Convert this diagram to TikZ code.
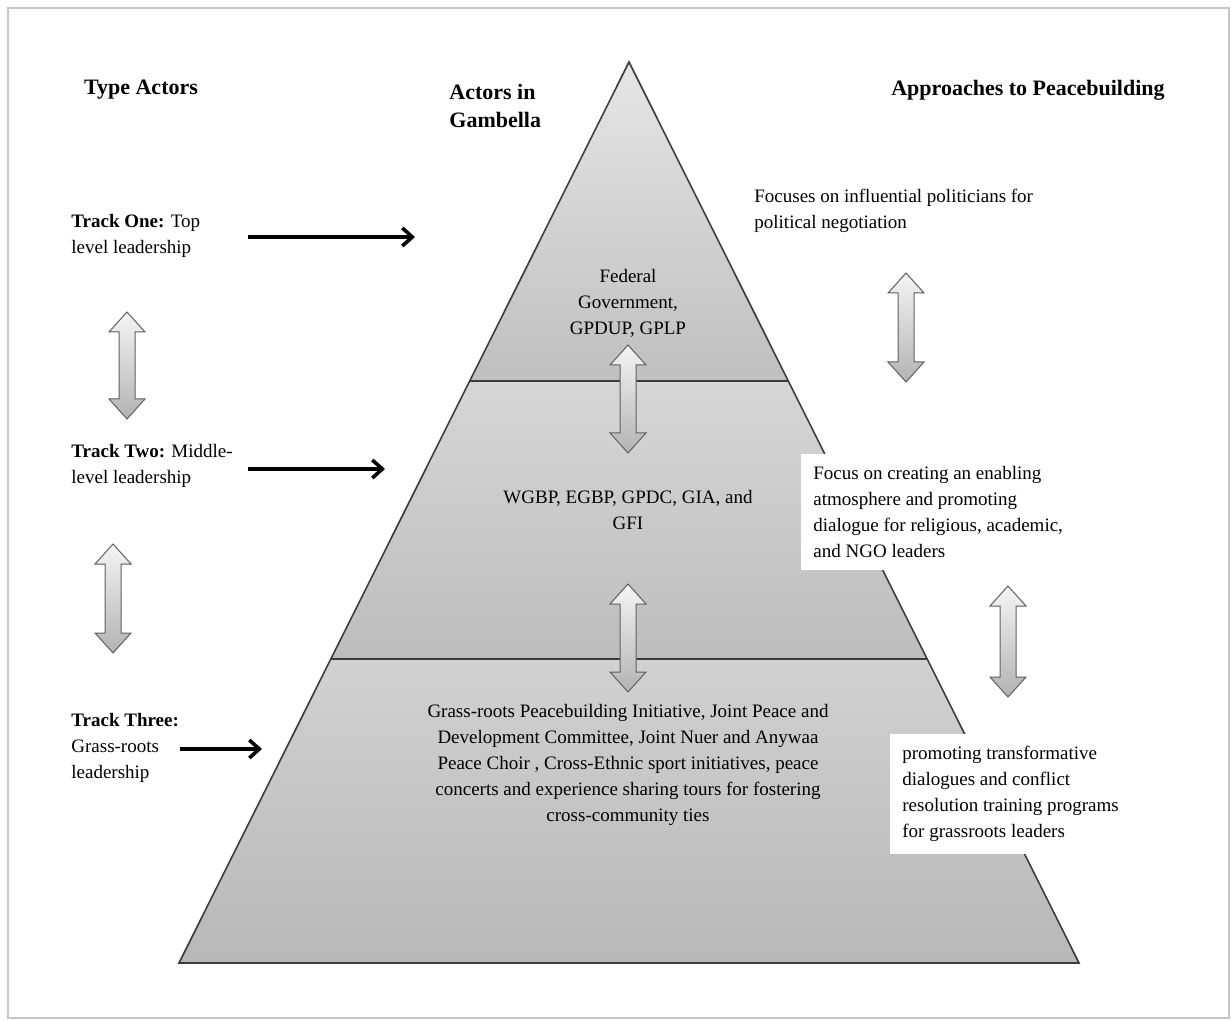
\documentclass[tikz,border=0pt]{standalone}
\usepackage{fontspec}
\setmainfont{Liberation Serif}
\usepackage{tikz}
\usetikzlibrary{positioning,arrows.meta}
\definecolor{edgegray}{RGB}{60,60,60}
\definecolor{framegray}{RGB}{200,200,200}

% up and down arrow: x, top, bottom
\newcommand{\updown}[3]{%
  \shadedraw[dbl] (#1,#2) -- ({#1+18},{#2+20}) -- ({#1+8},{#2+20}) -- ({#1+8},{#3-20})
  -- ({#1+18},{#3-20}) -- (#1,#3) -- ({#1-18},{#3-20}) -- ({#1-8},{#3-20})
  -- ({#1-8},{#2+20}) -- ({#1-18},{#2+20}) -- cycle;}

\begin{document}
\begin{tikzpicture}[x=0.5pt,y=-0.5pt,
txt/.style={font=\fontsize{9.5}{13}\selectfont,inner sep=0pt},
ttl/.style={font=\fontsize{11}{14}\selectfont\bfseries,inner sep=0pt},
harrow/.style={-{Straight Barb[length=5pt,width=9pt]},line width=1.8pt},
dbl/.style={draw=gray!75!black,line width=0.5pt,top color=gray!8,bottom color=gray!60},
tier/.style={draw=edgegray,line width=0.8pt}]
\useasboundingbox (0,0) rectangle (1231,1021);
\draw[framegray,line width=1.2pt] (8,8) rectangle (1229,1018);

% pyramid
\coordinate (apex) at (629,62);
\coordinate (l1) at (470,381);
\coordinate (r1) at (788,381);
\coordinate (l2) at (331,659);
\coordinate (r2) at (927,659);
\coordinate (bl) at (179,963);
\coordinate (br) at (1079,963);
\shade[top color=gray!20,bottom color=gray!50] (apex) -- (r1) -- (l1) -- cycle;
\shade[top color=gray!32,bottom color=gray!52] (l1) -- (r1) -- (r2) -- (l2) -- cycle;
\shade[top color=gray!36,bottom color=gray!56] (l2) -- (r2) -- (br) -- (bl) -- cycle;
\draw[tier] (apex) -- (br) -- (bl) -- cycle;
\draw[tier] (l1) -- (r1);
\draw[tier] (l2) -- (r2);

% headings
\node[ttl] (type) at (141,90) {Type Actors};
\node[ttl,align=left,anchor=north west] (gam) at (449,84) {Actors in\\Gambella};
\node[ttl] (appr) at (1028,90) {Approaches to Peacebuilding};

% tracks
\node[txt,align=left,anchor=north west] (t1) at (71,214) {\textbf{Track One:} Top\\level leadership};
\node[txt,align=left,anchor=north west] (t2) at (71,444) {\textbf{Track Two:} Middle-\\level leadership};
\node[txt,align=left,anchor=north west] (t3) at (71,713) {\textbf{Track Three:}\\Grass-roots\\leadership};

% actors
\node[txt,align=center] (fed) at (628,303) {Federal\\Government,\\GPDUP, GPLP};
\node[txt,align=center] (mid) at (628,510) {WGBP, EGBP, GPDC, GIA, and\\GFI};
\node[txt,align=center] (grass) at (628,765) {Grass-roots Peacebuilding Initiative, Joint Peace and\\
Development Committee, Joint Nuer and Anywaa\\
Peace Choir , Cross-Ethnic sport initiatives, peace\\
concerts and experience sharing tours for fostering\\
cross-community ties};

% approaches
\node[txt,align=left,anchor=north west] (pol) at (754,189) {Focuses on influential politicians for\\political negotiation};
\node[txt,fill=white,align=left,anchor=north west,inner xsep=6pt,inner ysep=6pt] (enab) at (801,454)
{Focus on creating an enabling\\atmosphere and promoting\\dialogue for religious, academic,\\and NGO leaders};
\node[txt,fill=white,align=left,anchor=north west,inner xsep=6pt,inner ysep=6pt] (trans) at (890,734)
{promoting transformative\\dialogues and conflict\\resolution training programs\\for grassroots leaders};

% arrows
\coordinate (a1) at (248,237);
\coordinate (b1) at (415,237);
\coordinate (a2) at (248,469);
\coordinate (b2) at (385,469);
\coordinate (a3) at (180,749);
\coordinate (b3) at (262,749);
\draw[harrow] (a1) -- (b1);
\draw[harrow] (a2) -- (b2);
\draw[harrow] (a3) -- (b3);

\updown{127}{312}{419}
\updown{113}{544}{653}
\updown{628}{345}{453}
\updown{628}{584}{692}
\updown{906}{273}{382}
\updown{1008}{586}{697}
\end{tikzpicture}
\end{document}
